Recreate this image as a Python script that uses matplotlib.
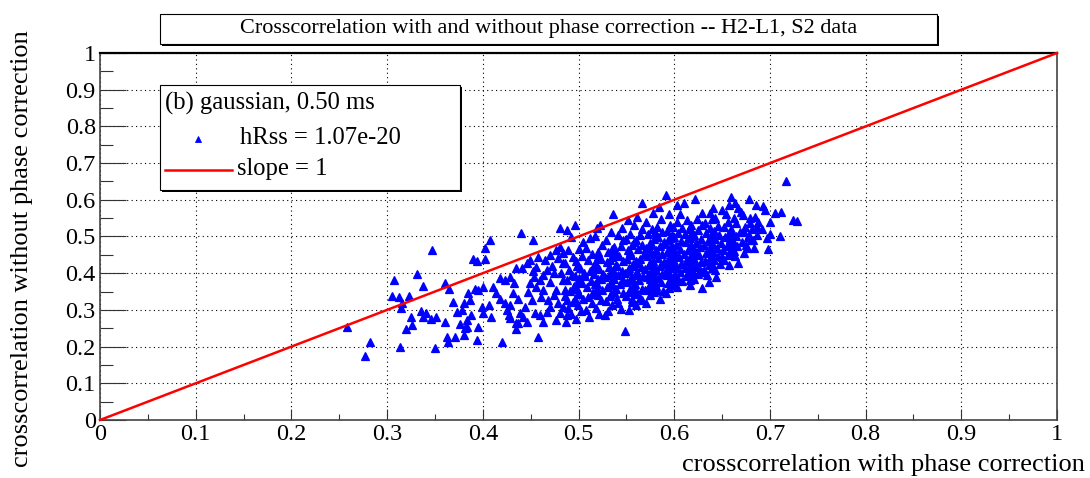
import numpy as np
import matplotlib
matplotlib.use('Agg')
import matplotlib.pyplot as plt
from matplotlib.patches import Rectangle
from matplotlib.lines import Line2D

# Crosscorrelation with and without phase correction, H2-L1 pair, S2 run

# sparse tail at low crosscorrelation
tail_with = [0.258, 0.277, 0.282, 0.305, 0.307, 0.312, 0.313, 0.315, 0.316, 0.320,
             0.323, 0.325, 0.326, 0.331, 0.335, 0.338, 0.338, 0.341, 0.346, 0.347,
             0.350, 0.351, 0.360, 0.361, 0.363, 0.364, 0.365, 0.369, 0.371, 0.373,
             0.376, 0.378, 0.380, 0.380, 0.381, 0.383, 0.383, 0.385, 0.387, 0.388,
             0.390, 0.392, 0.394, 0.394, 0.395, 0.395, 0.399, 0.400, 0.400, 0.402,
             0.402, 0.406, 0.408, 0.409, 0.420]
tail_without = [0.254, 0.174, 0.213, 0.338, 0.381, 0.334, 0.198, 0.304, 0.320, 0.248,
                0.338, 0.281, 0.258, 0.398, 0.296, 0.366, 0.281, 0.291, 0.274, 0.463,
                0.195, 0.281, 0.266, 0.374, 0.225, 0.213, 0.357, 0.322, 0.226, 0.293,
                0.262, 0.300, 0.232, 0.318, 0.250, 0.272, 0.254, 0.345, 0.327, 0.286,
                0.439, 0.356, 0.433, 0.218, 0.254, 0.354, 0.309, 0.291, 0.363, 0.439,
                0.468, 0.313, 0.490, 0.281, 0.213]

# lower body of the cloud
body_with = [0.411, 0.414, 0.418, 0.423, 0.428, 0.427, 0.428, 0.435, 0.446, 0.439,
             0.444, 0.437, 0.432, 0.423, 0.418, 0.428, 0.435, 0.441, 0.446, 0.449,
             0.456, 0.453, 0.460, 0.456, 0.463, 0.461, 0.451, 0.455, 0.460, 0.467,
             0.470, 0.468, 0.474, 0.477, 0.470, 0.474, 0.467, 0.465, 0.470, 0.477,
             0.481, 0.484, 0.484, 0.482, 0.484, 0.486, 0.488, 0.484, 0.481, 0.477,
             0.440, 0.452, 0.481, 0.488, 0.458, 0.435, 0.437, 0.425, 0.442, 0.447,
             0.433, 0.452, 0.458, 0.488, 0.479, 0.472, 0.463, 0.449, 0.479, 0.463]
body_without = [0.363, 0.345, 0.331, 0.318, 0.313, 0.286, 0.277, 0.263, 0.268, 0.291,
                0.309, 0.331, 0.345, 0.381, 0.386, 0.390, 0.413, 0.413, 0.427, 0.436,
                0.418, 0.390, 0.381, 0.363, 0.354, 0.336, 0.327, 0.291, 0.286, 0.295,
                0.309, 0.327, 0.341, 0.354, 0.377, 0.400, 0.409, 0.436, 0.450, 0.463,
                0.472, 0.454, 0.427, 0.400, 0.381, 0.354, 0.327, 0.309, 0.291, 0.272,
                0.509, 0.490, 0.522, 0.518, 0.227, 0.247, 0.263, 0.300, 0.282, 0.350,
                0.372, 0.405, 0.445, 0.286, 0.318, 0.420, 0.395, 0.372, 0.441, 0.266]

# dense core, one line per 0.01 slice in x
core_with = [
    0.487, 0.492, 0.489, 0.494, 0.486, 0.491, 0.495, 0.488, 0.493, 0.490, 0.486, 0.494, 0.489, 0.492,
    0.497, 0.503, 0.499, 0.505, 0.501, 0.498, 0.504, 0.500, 0.506, 0.502, 0.497, 0.504, 0.500, 0.505, 0.496,
    0.511, 0.508, 0.514, 0.510, 0.515, 0.509, 0.513, 0.507, 0.512, 0.516, 0.510, 0.514, 0.508, 0.512, 0.519,
    0.522, 0.521, 0.518, 0.524, 0.520, 0.525, 0.519, 0.523, 0.526, 0.521, 0.518, 0.524, 0.520, 0.525, 0.517, 0.528,
    0.531, 0.535, 0.529, 0.533, 0.537, 0.530, 0.534, 0.528, 0.536, 0.532, 0.530, 0.535, 0.531, 0.537, 0.529, 0.534, 0.536,
    0.540, 0.544, 0.541, 0.546, 0.539, 0.543, 0.547, 0.541, 0.545, 0.540, 0.546, 0.542, 0.538, 0.544, 0.547, 0.541, 0.545,
    0.549, 0.553, 0.556, 0.550, 0.554, 0.557, 0.551, 0.555, 0.549, 0.553, 0.557, 0.551, 0.555, 0.552, 0.556, 0.550, 0.554, 0.558, 0.552,
    0.560, 0.564, 0.561, 0.566, 0.559, 0.563, 0.567, 0.561, 0.565, 0.560, 0.564, 0.568, 0.562, 0.566, 0.560, 0.564, 0.566, 0.566, 0.561,
    0.571, 0.575, 0.570, 0.574, 0.578, 0.572, 0.576, 0.570, 0.574, 0.578, 0.572, 0.576, 0.571, 0.575, 0.579, 0.573, 0.577, 0.571, 0.578,
    0.582, 0.585, 0.581, 0.586, 0.583, 0.587, 0.581, 0.585, 0.589, 0.583, 0.587, 0.581, 0.585, 0.589, 0.583, 0.587, 0.582, 0.586, 0.584,
    0.592, 0.591, 0.595, 0.593, 0.597, 0.591, 0.596, 0.590, 0.594, 0.598, 0.592, 0.596, 0.590, 0.594, 0.598, 0.592, 0.596, 0.591, 0.595,
    0.603, 0.600, 0.604, 0.601, 0.606, 0.602, 0.607, 0.600, 0.605, 0.601, 0.606, 0.602, 0.607, 0.600, 0.604, 0.608, 0.603, 0.603, 0.606,
    0.610, 0.617, 0.617, 0.612, 0.615, 0.611, 0.616, 0.612, 0.617, 0.610, 0.614, 0.618, 0.612, 0.616, 0.611, 0.615, 0.613, 0.618,
    0.622, 0.629, 0.621, 0.625, 0.627, 0.623, 0.628, 0.621, 0.626, 0.622, 0.627, 0.623, 0.628, 0.621, 0.625, 0.629, 0.624, 0.629,
    0.634, 0.637, 0.631, 0.636, 0.632, 0.638, 0.633, 0.637, 0.631, 0.635, 0.639, 0.633, 0.637, 0.632, 0.636,
    0.641, 0.643, 0.643, 0.648, 0.642, 0.646, 0.641, 0.645, 0.649, 0.643, 0.647, 0.642, 0.646, 0.644,
    0.657, 0.657, 0.652, 0.656, 0.651, 0.655, 0.659, 0.653, 0.657, 0.652, 0.656, 0.654,
    0.659, 0.664, 0.667, 0.664, 0.667, 0.662, 0.666, 0.661, 0.665, 0.669, 0.665, 0.663,
    0.670, 0.672, 0.674, 0.673, 0.676, 0.671, 0.677, 0.673, 0.678, 0.679,
    0.684, 0.686, 0.682, 0.687, 0.683, 0.688, 0.685,
    0.693, 0.695, 0.697, 0.698, 0.700, 0.700, 0.692,
    0.705, 0.712, 0.711, 0.717, 0.724, 0.728,
]
core_without = [
    0.268, 0.290, 0.305, 0.322, 0.338, 0.351, 0.366, 0.382, 0.395, 0.410, 0.428, 0.445, 0.462, 0.498,
    0.275, 0.296, 0.312, 0.330, 0.343, 0.358, 0.372, 0.387, 0.401, 0.415, 0.432, 0.448, 0.466, 0.486, 0.531,
    0.282, 0.300, 0.318, 0.336, 0.349, 0.362, 0.378, 0.393, 0.405, 0.420, 0.437, 0.452, 0.470, 0.495, 0.522,
    0.531, 0.290, 0.305, 0.327, 0.340, 0.355, 0.370, 0.384, 0.398, 0.412, 0.425, 0.440, 0.458, 0.476, 0.500, 0.286,
    0.296, 0.312, 0.325, 0.338, 0.350, 0.363, 0.376, 0.389, 0.402, 0.416, 0.430, 0.444, 0.458, 0.472, 0.490, 0.512, 0.560,
    0.331, 0.303, 0.318, 0.345, 0.358, 0.370, 0.382, 0.394, 0.407, 0.420, 0.432, 0.446, 0.460, 0.474, 0.490, 0.505, 0.523,
    0.243, 0.300, 0.322, 0.337, 0.350, 0.362, 0.375, 0.388, 0.400, 0.413, 0.426, 0.438, 0.450, 0.463, 0.478, 0.492, 0.508, 0.530, 0.545,
    0.312, 0.333, 0.346, 0.358, 0.370, 0.381, 0.393, 0.404, 0.416, 0.428, 0.440, 0.452, 0.465, 0.478, 0.490, 0.503, 0.520, 0.590, 0.553,
    0.320, 0.340, 0.353, 0.366, 0.378, 0.389, 0.400, 0.411, 0.422, 0.434, 0.446, 0.457, 0.469, 0.481, 0.494, 0.506, 0.521, 0.540, 0.565,
    0.354, 0.330, 0.366, 0.377, 0.388, 0.398, 0.409, 0.419, 0.430, 0.441, 0.452, 0.463, 0.474, 0.486, 0.498, 0.511, 0.526, 0.548, 0.580,
    0.395, 0.345, 0.360, 0.373, 0.384, 0.405, 0.415, 0.426, 0.437, 0.447, 0.458, 0.469, 0.480, 0.491, 0.503, 0.516, 0.532, 0.613, 0.560,
    0.363, 0.372, 0.383, 0.394, 0.404, 0.414, 0.424, 0.434, 0.444, 0.455, 0.465, 0.476, 0.487, 0.498, 0.510, 0.523, 0.540, 0.586, 0.562,
    0.592, 0.368, 0.381, 0.392, 0.403, 0.413, 0.423, 0.433, 0.443, 0.453, 0.463, 0.473, 0.484, 0.495, 0.507, 0.520, 0.545, 0.530,
    0.601, 0.359, 0.385, 0.397, 0.408, 0.419, 0.430, 0.440, 0.450, 0.461, 0.471, 0.482, 0.493, 0.505, 0.517, 0.530, 0.548, 0.563,
    0.395, 0.563, 0.410, 0.421, 0.432, 0.443, 0.454, 0.465, 0.476, 0.487, 0.498, 0.510, 0.522, 0.537, 0.375,
    0.577, 0.550, 0.409, 0.425, 0.437, 0.448, 0.459, 0.470, 0.481, 0.492, 0.504, 0.516, 0.528, 0.390,
    0.586, 0.422, 0.436, 0.450, 0.462, 0.474, 0.486, 0.498, 0.510, 0.525, 0.540, 0.562,
    0.607, 0.590, 0.577, 0.447, 0.427, 0.460, 0.474, 0.487, 0.500, 0.513, 0.536, 0.551,
    0.568, 0.559, 0.527, 0.455, 0.470, 0.484, 0.498, 0.512, 0.602, 0.550,
    0.554, 0.527, 0.490, 0.505, 0.470, 0.540, 0.585,
    0.582, 0.572, 0.495, 0.465, 0.507, 0.540, 0.520,
    0.563, 0.568, 0.501, 0.652, 0.545, 0.542,
]

# extra events filling the middle of the core
fill_with = [
    0.534, 0.538, 0.533, 0.537, 0.532, 0.536, 0.539, 0.533, 0.537, 0.535,
    0.556, 0.559, 0.554, 0.558, 0.555, 0.559, 0.553, 0.557, 0.560, 0.554, 0.558,
    0.566, 0.579, 0.576, 0.580, 0.575, 0.579, 0.576, 0.580, 0.575, 0.579, 0.577, 0.580,
    0.588, 0.599, 0.596, 0.599, 0.595, 0.599, 0.597, 0.600, 0.595, 0.598, 0.596, 0.599,
    0.608, 0.620, 0.619, 0.620, 0.618, 0.620, 0.619, 0.620, 0.618, 0.620, 0.619,
    0.629, 0.640, 0.639, 0.640, 0.638, 0.640, 0.639, 0.640, 0.638, 0.640,
    0.650, 0.660, 0.659, 0.660, 0.658, 0.660, 0.659, 0.650,
    0.515, 0.519, 0.517, 0.520, 0.516, 0.519, 0.517, 0.520,
    0.496, 0.499, 0.497, 0.499, 0.496, 0.498,
    0.675, 0.680, 0.678, 0.681, 0.679,
]
fill_without = [
    0.344, 0.357, 0.369, 0.383, 0.396, 0.409, 0.423, 0.437, 0.451, 0.466,
    0.331, 0.344, 0.356, 0.369, 0.382, 0.394, 0.407, 0.420, 0.432, 0.457, 0.486,
    0.326, 0.348, 0.360, 0.372, 0.384, 0.395, 0.406, 0.417, 0.428, 0.452, 0.476, 0.512,
    0.352, 0.367, 0.380, 0.391, 0.400, 0.421, 0.432, 0.452, 0.463, 0.475, 0.497, 0.525,
    0.379, 0.398, 0.408, 0.418, 0.428, 0.438, 0.448, 0.458, 0.478, 0.500, 0.513,
    0.403, 0.415, 0.426, 0.437, 0.448, 0.459, 0.470, 0.481, 0.504, 0.547,
    0.444, 0.455, 0.467, 0.480, 0.493, 0.506, 0.520, 0.571,
    0.343, 0.356, 0.370, 0.385, 0.399, 0.413, 0.428, 0.445,
    0.330, 0.345, 0.361, 0.376, 0.392, 0.420,
    0.478, 0.491, 0.505, 0.520, 0.536,
]

corr_with = np.array(tail_with + body_with + core_with + fill_with)
corr_without = np.array(tail_without + body_without + core_without + fill_without)

slope_x = [0.0, 1.0]
tick_vals = [0.0, 0.1, 0.2, 0.3, 0.4, 0.5, 0.6, 0.7, 0.8, 0.9, 1.0]
tick_labels = ['0', '0.1', '0.2', '0.3', '0.4', '0.5', '0.6', '0.7', '0.8', '0.9', '1']

plt.rcParams['font.family'] = ['Liberation Serif', 'DejaVu Serif']

W, H = 1090, 478
fig = plt.figure(figsize=(W / 100, H / 100), dpi=100)


def fx(px):
    return px / W


def fy(py):
    return 1 - py / H


ax = fig.add_axes([fx(100), fy(420), (1057 - 100) / W, (420 - 53) / H])
ax.set_xlim(0, 1)
ax.set_ylim(0, 1)

ax.grid(True, which='major', color='black', linestyle=(0, (1, 3)), linewidth=0.8)
ax.set_axisbelow(True)

ax.plot(corr_with, corr_without, linestyle='none', marker='^', color='#0000ff',
        markersize=6, markeredgewidth=0.9, zorder=3)
ax.plot(slope_x, slope_x, color='red', linewidth=1.8, zorder=4, clip_on=False)

ax.set_xticks(tick_vals)
ax.set_xticklabels(tick_labels)
ax.set_yticks(tick_vals)
ax.set_yticklabels(tick_labels)
ax.set_xticks(np.arange(0.05, 1.0, 0.1), minor=True)
ax.set_yticks(np.arange(0.05, 1.0, 0.1), minor=True)
ax.tick_params(axis='both', which='both', direction='in', color='#333333', width=0.8,
               top=False, right=False, labelsize=17.5)
ax.tick_params(axis='x', which='major', length=8, pad=3)
ax.tick_params(axis='x', which='minor', length=4.3)
ax.tick_params(axis='y', which='major', length=18.7, pad=3)
ax.tick_params(axis='y', which='minor', length=9.4)

for side in ['left', 'bottom', 'right']:
    ax.spines[side].set_color('#444444')
    ax.spines[side].set_linewidth(1.2)
ax.spines['top'].set_color('black')
ax.spines['top'].set_linewidth(1.6)


def boxed(x0, y0, x1, y1, shadow=2):
    # ROOT style box: dark shadow down and to the right, white face on top
    fig.add_artist(Rectangle((fx(x0 + shadow), fy(y1 + shadow)), (x1 - x0) / W, (y1 - y0) / H,
                             transform=fig.transFigure, facecolor='black',
                             edgecolor='none', zorder=5))
    fig.add_artist(Rectangle((fx(x0), fy(y1)), (x1 - x0) / W, (y1 - y0) / H,
                             transform=fig.transFigure, facecolor='white',
                             edgecolor='black', linewidth=0.8, zorder=6))


# title box
boxed(160, 14, 937, 44)
fig.text(fx(549), fy(29), 'Crosscorrelation with and without phase correction -- H2-L1, S2 data',
         ha='center', va='center', fontsize=16, zorder=7)

# legend box
boxed(160, 85, 460, 190)
fig.text(fx(165), fy(103), '(b) gaussian, 0.50 ms', ha='left', va='center', fontsize=17.7, zorder=7)
fig.add_artist(Line2D([fx(198)], [fy(139)], transform=fig.transFigure, linestyle='none',
                      marker='^', color='#0000ff', markersize=5, markeredgewidth=0.6, zorder=7))
fig.text(fx(240), fy(138), 'hRss = 1.07e-20', ha='left', va='center', fontsize=17.7, zorder=7)
fig.add_artist(Line2D([fx(165), fx(232)], [fy(170), fy(170)], transform=fig.transFigure,
                      color='red', linewidth=1.8, zorder=7))
fig.text(fx(237), fy(169), 'slope = 1', ha='left', va='center', fontsize=17.7, zorder=7)

# axis titles, aligned to the far ends of the axes
fig.text(fx(1085), fy(465), 'crosscorrelation with phase correction',
         ha='right', va='center', fontsize=19)
fig.text(fx(22), fy(30), 'crosscorrelation without phase correction',
         rotation=90, ha='center', va='top', fontsize=19)

fig.savefig('out.png', dpi=100)
